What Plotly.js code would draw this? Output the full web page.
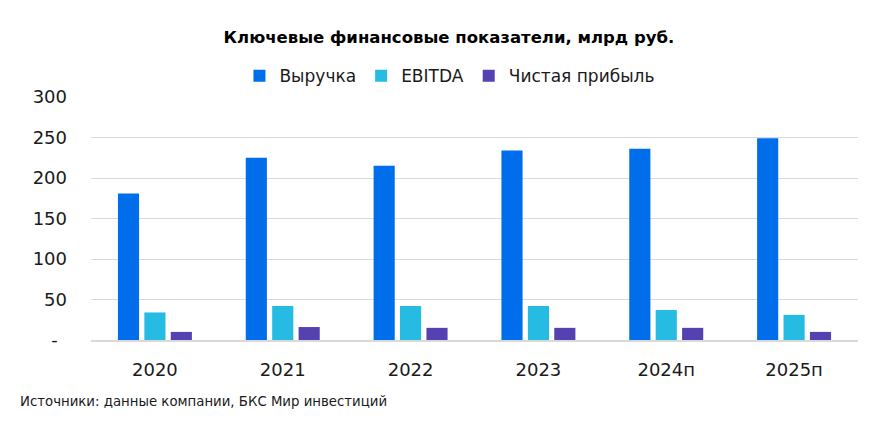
<!DOCTYPE html>
<html>
<head>
<meta charset="utf-8">
<script src="https://cdn.plot.ly/plotly-3.0.1.min.js"></script>
<style>html,body{margin:0;padding:0;background:#fff;}#chart{width:889px;height:434px;}</style>
</head>
<body>
<div id="chart"></div>
<script>
const categories = ['2020', '2021', '2022', '2023', '2024п', '2025п'];
const revenue = [181, 225, 215, 234, 236, 249];
const ebitda = [34, 42, 42, 42, 37, 31];
const netProfit = [10, 16, 15, 15, 15, 10];
const seriesNames = ['Выручка', 'EBITDA', 'Чистая прибыль'];
const yTickVals = [0, 50, 100, 150, 200, 250, 300];
const yTickText = ['-\u2009\u00a0', '50', '100', '150', '200', '250', '300'];
const titleText = 'Ключевые финансовые показатели, млрд руб.';
const sourceText = 'Источники: данные компании, БКС Мир инвестиций';

const colors = ['#006DEB', '#25BBE3', '#5641B1'];
const font = 'DejaVu Sans, sans-serif';

const data = [revenue, ebitda, netProfit].map((vals, i) => ({
  type: 'bar', x: categories, y: vals, name: seriesNames[i],
  marker: {color: colors[i]}, hoverinfo: 'none'
}));

const layout = {
  width: 889, height: 434,
  margin: {l: 91, r: 31, t: 97, b: 94},
  paper_bgcolor: '#fff', plot_bgcolor: '#fff',
  font: {family: font, color: '#1a1a1a'},
  title: {text: '<b>' + titleText + '</b>', x: 0.505, xanchor: 'center', xref: 'container',
          y: 1 - 37/434, yref: 'container', yanchor: 'middle',
          font: {size: 16.5, color: '#000', family: font}},
  barmode: 'group', bargap: 0.38, bargroupgap: 0.2,
  showlegend: true,
  legend: {orientation: 'h', x: 0.468, xanchor: 'center', y: 1.086, yanchor: 'middle',
           font: {size: 17, color: '#1a1a1a'}, itemwidth: 30, traceorder: 'normal'},
  xaxis: {type: 'category', showgrid: false, zeroline: false, showline: true,
          linecolor: '#d9d9d9', linewidth: 2, ticks: '', ticklen: 0, ticklabelstandoff: 12,
          tickangle: 0, tickfont: {size: 18, color: '#1a1a1a'}, automargin: false},
  yaxis: {range: [0, 300], tickvals: yTickVals, ticktext: yTickText,
          showgrid: true, gridcolor: '#d9d9d9', gridwidth: 1, zeroline: false,
          showline: false, ticks: '', ticklabelstandoff: 23, tickfont: {size: 18, color: '#1a1a1a'},
          automargin: false},
  annotations: [{text: sourceText, xref: 'paper', yref: 'paper',
                 x: -73/767, xanchor: 'left', y: -61/243, yanchor: 'middle',
                 showarrow: false, font: {size: 13.3, color: '#1a1a1a'}}]
};

Plotly.newPlot('chart', data, layout, {displayModeBar: false, staticPlot: true});
</script>
</body>
</html>
